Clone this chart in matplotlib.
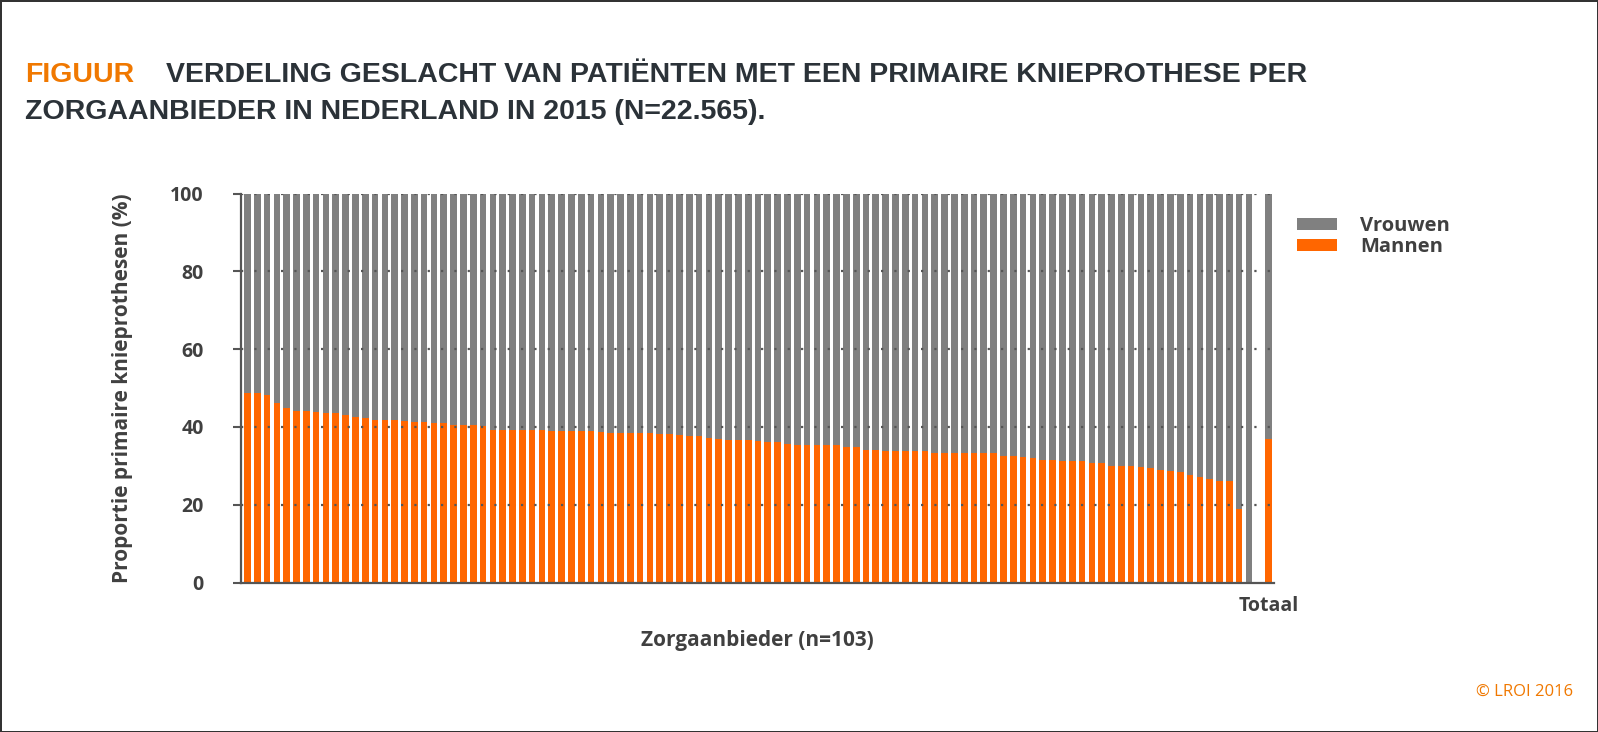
import numpy as np
import matplotlib
matplotlib.use("Agg")
import matplotlib.pyplot as plt

# Percentage men per care provider (sorted)
mannen = [48.6, 48.6, 48.3, 46.2, 44.8, 44.1, 44.1, 43.8, 43.6, 43.5, 43.1,
          42.6, 42.2, 41.7, 41.7, 41.7, 41.5, 41.2, 41.2, 41.0, 41.0,
          40.6, 40.6, 40.5, 40.3, 39.3, 39.3, 39.1, 39.1, 39.1, 39.1,
          39.0, 39.0, 39.0, 38.9, 38.9, 38.6, 38.4, 38.4, 38.4, 38.4,
          38.4, 38.1, 38.1, 37.9, 37.6, 37.6, 37.1, 36.9, 36.6, 36.6,
          36.6, 36.4, 36.0, 36.0, 35.5, 35.3, 35.3, 35.3, 35.3, 35.3, 34.8,
          34.8, 34.0, 34.0, 33.9, 33.9, 33.8, 33.8, 33.8, 33.4, 33.4,
          33.4, 33.4, 33.4, 33.3, 33.3, 32.4, 32.4, 32.2, 32.0, 31.4,
          31.4, 31.3, 31.3, 31.2, 30.8, 30.6, 30.0, 30.0, 29.9, 29.7,
          29.4, 28.9, 28.6, 28.3, 27.6, 27.2, 26.5, 26.0, 26.0, 18.8, 0.0]
mannen_totaal = 36.8
totaal_label = "Totaal"
y_ticks = [0, 20, 40, 60, 80, 100]

ORANJE = "#FF6600"
GRIJS = "#808080"
TEKST = "#404040"
TITEL = "#2B3238"
TITEL_ORANJE = "#F07800"

plt.rcParams["font.family"] = ["Open Sans", "DejaVu Sans"]

fig = plt.figure(figsize=(15.98, 7.32), dpi=100, edgecolor="#333333", linewidth=2)
ax = fig.add_axes([241 / 1598, 149.5 / 732, 1033 / 1598, 389 / 732])

n = len(mannen)
x = np.arange(n)
x_tot = n + 1
w = 0.68

mannen_arr = np.array(mannen)
vrouwen = 100 - mannen_arr

ax.bar(x, mannen_arr, width=w, color=ORANJE, label="Mannen", zorder=2)
ax.bar(x, vrouwen, bottom=mannen_arr, width=w, color=GRIJS, label="Vrouwen", zorder=2)
ax.bar(x_tot, mannen_totaal, width=w, color=ORANJE, zorder=2)
ax.bar(x_tot, 100 - mannen_totaal, bottom=mannen_totaal, width=w, color=GRIJS, zorder=2)

ax.set_xlim(-0.65, x_tot + 0.55)
ax.set_ylim(0, 100)
ax.set_yticks(y_ticks)
ax.set_yticklabels([str(v) for v in y_ticks], fontsize=14, fontweight="bold", color=TEKST)
ax.set_xticks([x_tot])
ax.set_xticklabels([totaal_label], fontsize=14, fontweight="bold", color=TEKST)
ax.tick_params(axis="x", length=0, pad=10)
ax.tick_params(axis="y", length=6, width=1.5, color="#555555", pad=21)

for v in y_ticks[1:]:
    ax.axhline(v, color="#555555", linewidth=1.6, linestyle=(0, (1, 5)), zorder=3)

for s in ["top", "right"]:
    ax.spines[s].set_visible(False)
for s in ["left", "bottom"]:
    ax.spines[s].set_color("#555555")
    ax.spines[s].set_linewidth(1.6)

ax.set_ylabel("Proportie primaire knieprothesen (%)", fontsize=15,
              fontweight="bold", color=TEKST)
ax.yaxis.set_label_coords(-0.1045, 0.5)
ax.set_xlabel("Zorgaanbieder (n=103)", fontsize=15, fontweight="bold", color=TEKST)
ax.xaxis.set_label_coords(0.5, -0.122)

handles, labels = ax.get_legend_handles_labels()
fig.legend(handles[::-1], labels[::-1], loc="upper left",
           bbox_to_anchor=(1297 / 1598, 1 - 216 / 732), frameon=False,
           prop={"weight": "bold", "size": 14.5},
           handlelength=1.98, handleheight=0.5, handletextpad=1.14,
           labelspacing=0.05, borderpad=0, borderaxespad=0, labelcolor=TEKST)

# title
fig.text(25 / 1598, 1 - 82 / 732, "FIGUUR", fontsize=20.5, fontweight="bold",
         color=TITEL_ORANJE, family="Liberation Sans", va="baseline")
fig.text(166 / 1598, 1 - 82 / 732,
         "VERDELING GESLACHT VAN PATIËNTEN MET EEN PRIMAIRE KNIEPROTHESE PER",
         fontsize=20.5, fontweight="bold", color=TITEL, family="Liberation Sans", va="baseline")
fig.text(25 / 1598, 1 - 119 / 732, "ZORGAANBIEDER IN NEDERLAND IN 2015 (N=22.565).",
         fontsize=20.5, fontweight="bold", color=TITEL, family="Liberation Sans", va="baseline")

fig.text(1573 / 1598, 1 - 696 / 732, "© LROI 2016", fontsize=12, color=TITEL_ORANJE,
         ha="right", va="baseline")

fig.savefig("out.png", dpi=100, edgecolor=fig.get_edgecolor())
